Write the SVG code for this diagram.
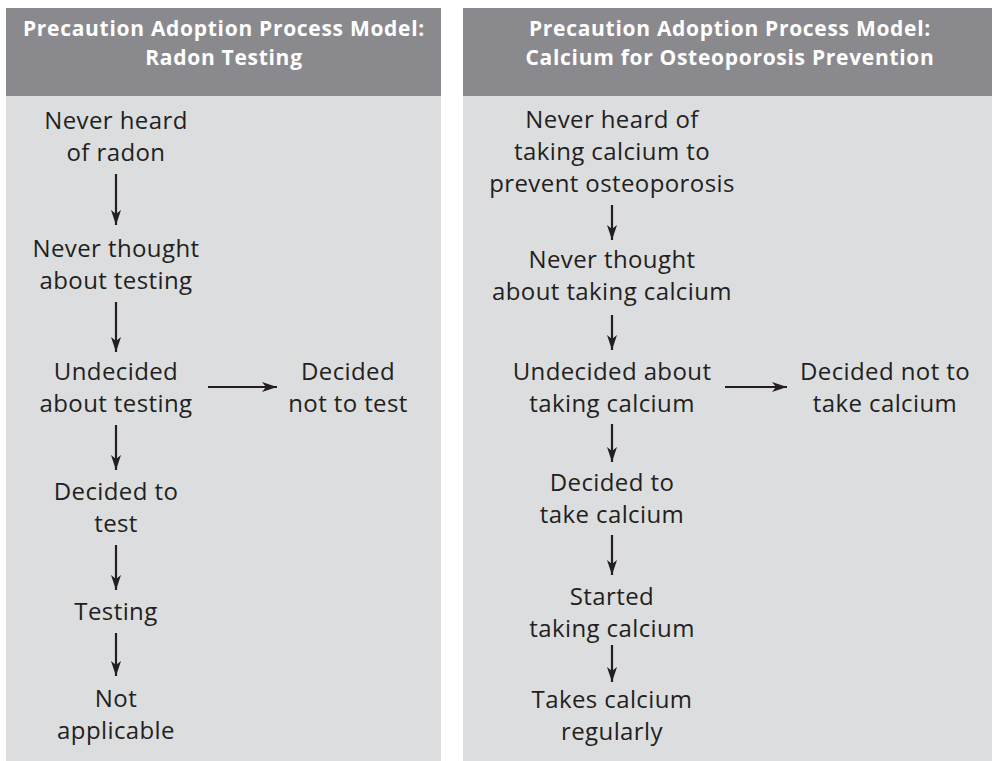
<svg xmlns="http://www.w3.org/2000/svg" width="992" height="761" viewBox="0 0 992 761">
<defs>
<style>
.hdr{fill:#8a8a8e}
.body{fill:#dcdddf}
.ht{font-family:"Open Sans","Liberation Sans",sans-serif;font-weight:bold;font-size:21px;letter-spacing:0.7px;fill:#ffffff;text-anchor:middle}
.t{font-family:"Open Sans","Liberation Sans",sans-serif;font-size:24px;letter-spacing:0.4px;fill:#231f20;text-anchor:middle}
.ar{stroke:#231f20;stroke-width:2.2;fill:none;marker-end:url(#ah)}
</style>
<marker id="ah" viewBox="0 0 15 10" refX="15" refY="5" markerWidth="15" markerHeight="10" markerUnits="userSpaceOnUse" orient="auto">
<path d="M0,0 L15,5 L0,10 L4,5 Z" fill="#231f20"/>
</marker>
</defs>
<rect width="992" height="761" fill="#ffffff"/>
<g id="panel-left">
<rect class="body" x="6" y="8" width="435" height="753"/>
<rect class="hdr" x="6" y="8" width="435" height="88"/>
<text class="ht" x="224" y="36">Precaution Adoption Process Model:</text>
<text class="ht" x="224" y="65">Radon Testing</text>
</g>
<g id="panel-right">
<rect class="body" x="463" y="8" width="529" height="753"/>
<rect class="hdr" x="463" y="8" width="529" height="88"/>
<text class="ht" x="730" y="36">Precaution Adoption Process Model:</text>
<text class="ht" x="730" y="65">Calcium for Osteoporosis Prevention</text>
</g>
<g id="L1"><text class="t" x="116" y="129">Never heard</text><text class="t" x="116" y="161">of radon</text></g>
<g id="L2"><text class="t" x="116" y="257">Never thought</text><text class="t" x="116" y="289">about testing</text></g>
<g id="L3"><text class="t" x="116" y="380">Undecided</text><text class="t" x="116" y="412">about testing</text></g>
<g id="L4"><text class="t" x="348" y="380">Decided</text><text class="t" x="348" y="412">not to test</text></g>
<g id="L5"><text class="t" x="116" y="500">Decided to</text><text class="t" x="116" y="532">test</text></g>
<g id="L6"><text class="t" x="116" y="620">Testing</text></g>
<g id="L7"><text class="t" x="116" y="707">Not</text><text class="t" x="116" y="739">applicable</text></g>
<g id="R1"><text class="t" x="612" y="128">Never heard of</text><text class="t" x="612" y="160">taking calcium to</text><text class="t" x="612" y="192">prevent osteoporosis</text></g>
<g id="R2"><text class="t" x="612" y="268">Never thought</text><text class="t" x="612" y="300">about taking calcium</text></g>
<g id="R3"><text class="t" x="612" y="380">Undecided about</text><text class="t" x="612" y="412">taking calcium</text></g>
<g id="R4"><text class="t" x="885" y="380">Decided not to</text><text class="t" x="885" y="412">take calcium</text></g>
<g id="R5"><text class="t" x="612" y="491">Decided to</text><text class="t" x="612" y="523">take calcium</text></g>
<g id="R6"><text class="t" x="612" y="605">Started</text><text class="t" x="612" y="637">taking calcium</text></g>
<g id="R7"><text class="t" x="612" y="708">Takes calcium</text><text class="t" x="612" y="740">regularly</text></g>
<g id="connectors">
<line class="ar" x1="116" y1="174" x2="116" y2="225"/>
<line class="ar" x1="116" y1="302" x2="116" y2="352"/>
<line class="ar" x1="116" y1="425" x2="116" y2="470"/>
<line class="ar" x1="116" y1="545" x2="116" y2="590"/>
<line class="ar" x1="116" y1="633" x2="116" y2="676"/>
<line class="ar" x1="208" y1="387" x2="277" y2="387"/>
<line class="ar" x1="612" y1="205" x2="612" y2="240"/>
<line class="ar" x1="612" y1="315" x2="612" y2="350"/>
<line class="ar" x1="612" y1="424" x2="612" y2="462"/>
<line class="ar" x1="612" y1="535" x2="612" y2="575"/>
<line class="ar" x1="612" y1="645" x2="612" y2="682"/>
<line class="ar" x1="725" y1="387" x2="787" y2="387"/>
</g>
</svg>
